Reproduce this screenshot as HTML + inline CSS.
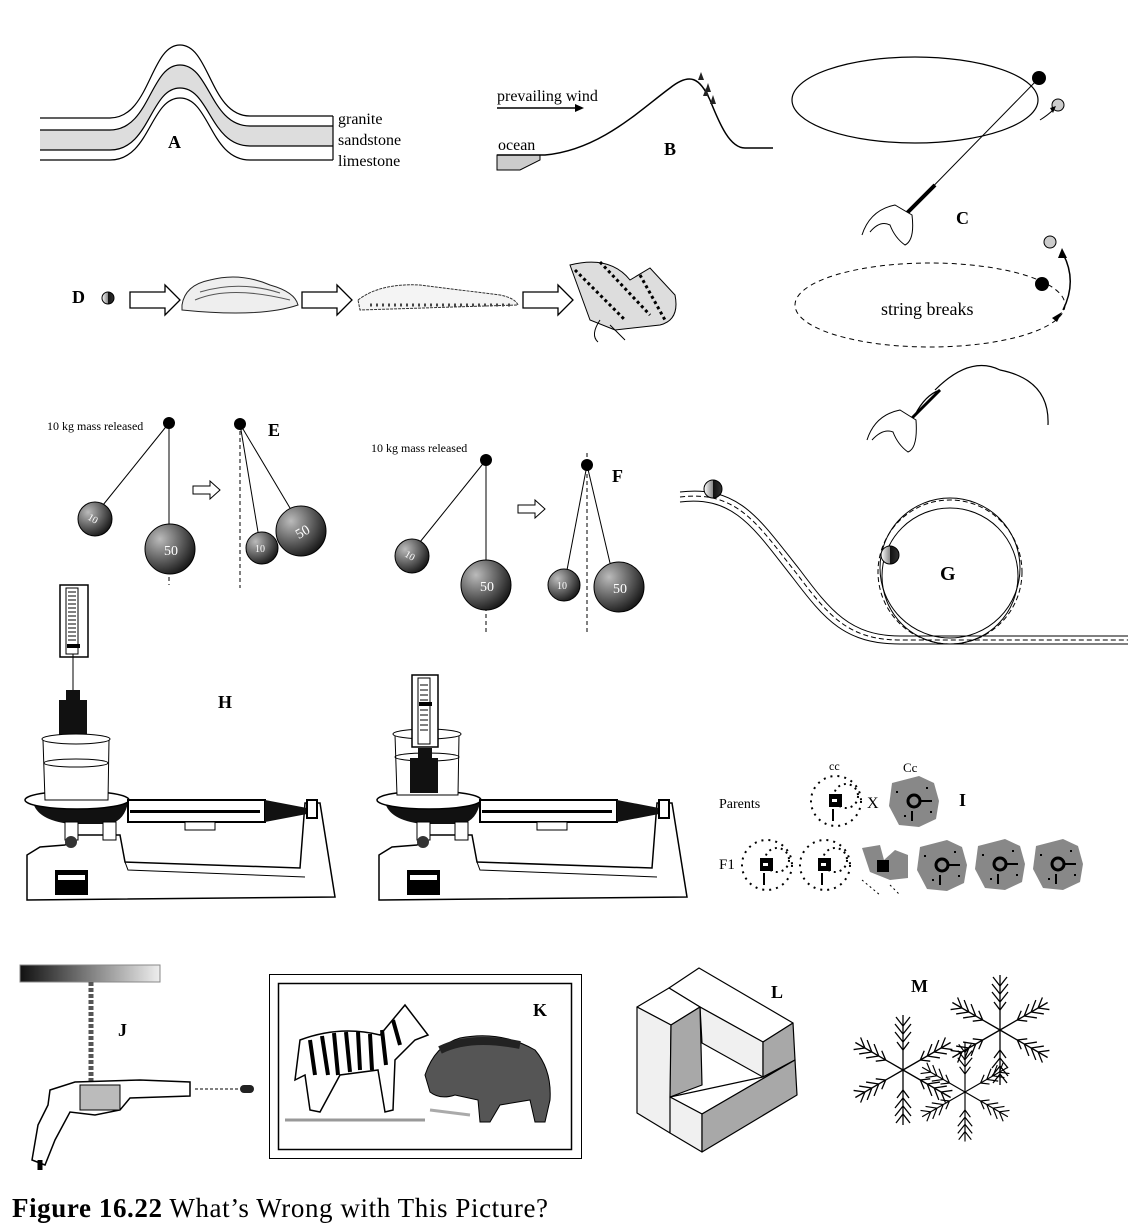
<!DOCTYPE html>
<html><head><meta charset="utf-8"><style>
html,body{margin:0;padding:0;background:#fff;}
svg{display:block;font-family:"Liberation Serif",serif;}
</style></head><body>
<svg width="1128" height="1230" viewBox="0 0 1128 1230" xmlns="http://www.w3.org/2000/svg">
<defs>
<radialGradient id="ball" cx="0.3" cy="0.3" r="0.8"><stop offset="0" stop-color="#bbb"/><stop offset="0.6" stop-color="#555"/><stop offset="1" stop-color="#111"/></radialGradient>
<linearGradient id="bar" x1="0" x2="1"><stop offset="0" stop-color="#111"/><stop offset="1" stop-color="#eee"/></linearGradient>
<linearGradient id="half" x1="0" x2="1"><stop offset="0" stop-color="#fff"/><stop offset="0.5" stop-color="#888"/><stop offset="0.5" stop-color="#111"/><stop offset="1" stop-color="#333"/></linearGradient>
<g id="dotblob"><circle r="25" fill="none" stroke="#000" stroke-width="2" stroke-dasharray="2 5"/><circle cx="10" cy="-5" r="12" fill="none" stroke="#000" stroke-width="2" stroke-dasharray="2 4"/><rect x="-7" y="-7" width="13" height="13" fill="#000"/><rect x="-4" y="-2" width="5" height="3" fill="#fff"/><line x1="-3" y1="8" x2="-3" y2="20" stroke="#000" stroke-width="2"/></g>
<g id="grayblob"><path d="M-22,-18 L5,-25 L20,-18 L25,0 L22,18 L5,26 L-15,24 L-25,5 Z" fill="#888"/><circle r="6" fill="none" stroke="#000" stroke-width="3"/><line x1="6" y1="0" x2="18" y2="0" stroke="#000" stroke-width="2"/><line x1="-2" y1="10" x2="-2" y2="20" stroke="#000" stroke-width="2"/><g fill="#000"><rect x="-18" y="-10" width="2" height="2"/><rect x="12" y="-14" width="2" height="2"/><rect x="-10" y="14" width="2" height="2"/><rect x="16" y="10" width="2" height="2"/></g></g>
<g id="balance">
<path d="M2,320 L2,275 L15,267 L40,265 L50,255 L95,255 L100,282 L275,288 L280,223 L295,223 L310,317 Z" fill="#fff" stroke="#000" stroke-width="1.5"/>
<path d="M100,282 L103,290 L280,297" fill="none" stroke="#000"/>
<rect x="30" y="290" width="33" height="25" fill="#000"/><rect x="33" y="295" width="27" height="5" fill="#fff"/>
<path d="M8,222 Q12,240 45,244 L85,244 Q100,240 103,222 Z" fill="#111"/>
<ellipse cx="52" cy="220" rx="52" ry="9" fill="#fff" stroke="#000" stroke-width="1.5"/>
<rect x="40" y="242" width="13" height="18" fill="#fff" stroke="#000"/><rect x="78" y="242" width="13" height="18" fill="#fff" stroke="#000"/>
<circle cx="46" cy="262" r="6" fill="#333"/>
<rect x="103" y="220" width="137" height="22" fill="#fff" stroke="#000" stroke-width="2"/>
<rect x="105" y="230" width="130" height="3" fill="#000"/>
<rect x="160" y="242" width="30" height="8" fill="#fff" stroke="#000"/>
<path d="M240,220 L282,228 L282,234 L240,242 Z" fill="#111"/>
<rect x="282" y="220" width="10" height="18" fill="#fff" stroke="#000" stroke-width="2"/>
</g>
<g id="flake" stroke="#000" stroke-width="1.3" fill="none">
<g id="arm"><line x1="0" y1="0" x2="0" y2="-55"/><path d="M0,-20 l-6,-8 M0,-20 l6,-8 M0,-28 l-8,-10 M0,-28 l8,-10 M0,-36 l-8,-10 M0,-36 l8,-10 M0,-44 l-7,-9 M0,-44 l7,-9"/></g>
<use href="#arm" transform="rotate(60)"/><use href="#arm" transform="rotate(120)"/><use href="#arm" transform="rotate(180)"/><use href="#arm" transform="rotate(240)"/><use href="#arm" transform="rotate(300)"/>
</g>
</defs>

<!-- A -->
<path d="M40,150 L40,130 L110,130 C150,130 150,65 180,65 C210,65 210,126 250,126 L333,126 L333,146 L250,146 C210,146 210,88 180,88 C150,88 150,150 110,150 Z" fill="#ddd"/>
<g fill="none" stroke="#000" stroke-width="1.2">
<path d="M40,118 L110,118 C150,118 150,45 180,45 C210,45 210,116 250,116 L333,116"/>
<path d="M40,130 L110,130 C150,130 150,65 180,65 C210,65 210,126 250,126 L333,126"/>
<path d="M40,150 L110,150 C150,150 150,88 180,88 C210,88 210,146 250,146 L333,146"/>
<path d="M40,160 L110,160 C150,160 150,98 180,98 C210,98 210,160 250,160 L333,160"/>
<line x1="333" y1="116" x2="333" y2="160"/>
</g>
<text x="168" y="148" font-size="18" font-weight="bold">A</text>
<text x="338" y="124" font-size="16">granite</text>
<text x="338" y="145" font-size="16">sandstone</text>
<text x="338" y="166" font-size="16">limestone</text>

<!-- B -->
<path d="M497,155 L540,155 L540,160 L520,170 L497,170 Z" fill="#ccc" stroke="#000"/>
<path d="M497,155 L545,155 C600,150 640,110 670,88 C690,72 700,78 710,100 C720,125 730,148 745,148 L773,148" fill="none" stroke="#000" stroke-width="1.5"/>
<path d="M698,80 l3,-8 l3,8 z M705,92 l3,-9 l3,9 z M710,104 l3,-9 l3,9 z M703,96 l3,-8 l3,8 z" fill="#222"/>
<text x="497" y="101" font-size="16">prevailing wind</text>
<line x1="497" y1="108" x2="575" y2="108" stroke="#000" stroke-width="1.5"/><path d="M575,104 L584,108 L575,112 Z"/>
<text x="498" y="150" font-size="16">ocean</text>
<text x="664" y="155" font-size="18" font-weight="bold">B</text>

<!-- C -->
<ellipse cx="915" cy="100" rx="123" ry="43" fill="none" stroke="#000" stroke-width="1.2"/>
<circle cx="1039" cy="78" r="7"/>
<circle cx="1058" cy="105" r="6" fill="#ccc" stroke="#000"/>
<path d="M1040,120 Q1048,115 1053,110" fill="none" stroke="#000"/><path d="M1050,108 L1056,106 L1053,113 Z"/>
<line x1="1039" y1="78" x2="912" y2="208" stroke="#000"/>
<path d="M935,185 L905,215" stroke="#000" stroke-width="4"/>
<path d="M862,235 Q870,210 895,205 L912,215 Q915,240 905,245 Q895,238 890,225 Q880,220 870,232" fill="#fff" stroke="#000"/>
<text x="956" y="224" font-size="18" font-weight="bold">C</text>
<ellipse cx="930" cy="305" rx="135" ry="42" fill="none" stroke="#000" stroke-dasharray="5 4"/>
<circle cx="1042" cy="284" r="7"/>
<circle cx="1050" cy="242" r="6" fill="#ccc" stroke="#000"/>
<path d="M1063,310 Q1078,280 1062,252" fill="none" stroke="#000" stroke-width="1.5"/><path d="M1058,258 L1062,248 L1067,258 Z"/>
<path d="M1052,318 L1062,312 L1057,322 Z"/>
<text x="881" y="315" font-size="18">string breaks</text>
<path d="M915,415 Q925,395 940,390 M935,390 Q970,355 1000,370 Q1050,380 1048,425" fill="none" stroke="#000" stroke-width="1.2"/>
<path d="M940,390 L912,418" stroke="#000" stroke-width="3"/>
<path d="M867,440 Q875,415 900,410 L916,420 Q918,448 908,452 Q898,445 893,432 Q883,428 872,440" fill="#fff" stroke="#000"/>

<!-- D -->
<text x="72" y="303" font-size="18" font-weight="bold">D</text>
<circle cx="108" cy="298" r="6" fill="url(#half)" stroke="#000"/>
<g fill="#fff" stroke="#000" stroke-width="1.3">
<path d="M130,292 L165,292 L165,285 L180,300 L165,315 L165,308 L130,308 Z"/>
<path d="M302,292 L337,292 L337,285 L352,300 L337,315 L337,308 L302,308 Z"/>
<path d="M523,292 L558,292 L558,285 L573,300 L558,315 L558,308 L523,308 Z"/>
</g>
<path d="M182,305 Q185,285 210,280 Q240,272 270,285 Q295,292 298,305 Q260,318 182,310 Z" fill="#eee" stroke="#222"/>
<path d="M195,300 Q230,285 290,300 M200,292 Q240,280 280,293" stroke="#555" fill="none"/>
<path d="M358,300 Q380,283 420,285 L500,295 Q515,298 518,305 L360,310 Z" fill="#f4f4f4" stroke="#333" stroke-dasharray="3 1"/>
<path d="M370,305 L510,305" stroke="#444" stroke-dasharray="2 4" stroke-width="3"/>
<path d="M590,320 L570,265 Q610,255 630,280 L650,268 L675,295 Q680,320 660,325 L615,330 Z" fill="#ddd" stroke="#000"/>
<path d="M575,270 L625,320 M600,262 L650,315 M640,275 L665,320" stroke="#000" stroke-width="3" stroke-dasharray="3 3"/>
<path d="M600,320 Q590,335 598,342 M610,325 Q620,335 625,340" fill="none" stroke="#000"/>

<!-- E -->
<text x="47" y="430" font-size="12">10 kg mass released</text>
<line x1="169" y1="423" x2="169" y2="585" stroke="#000" stroke-dasharray="4 3"/>
<circle cx="169" cy="423" r="6"/>
<line x1="169" y1="423" x2="103" y2="505" stroke="#000"/>
<line x1="169" y1="423" x2="169" y2="525" stroke="#000"/>
<circle cx="95" cy="519" r="17" fill="url(#ball)" stroke="#000"/>
<text x="88" y="523" font-size="10" fill="#fff" transform="rotate(30 95 519)">10</text>
<circle cx="170" cy="549" r="25" fill="url(#ball)" stroke="#000"/>
<text x="164" y="555" font-size="14" fill="#fff">50</text>
<path d="M193,486 L210,486 L210,481 L220,490 L210,499 L210,494 L193,494 Z" fill="#fff" stroke="#000"/>
<line x1="240" y1="424" x2="240" y2="588" stroke="#000" stroke-dasharray="4 3"/>
<circle cx="240" cy="424" r="6"/>
<line x1="240" y1="424" x2="258" y2="532" stroke="#000"/>
<line x1="240" y1="424" x2="290" y2="508" stroke="#000"/>
<circle cx="262" cy="548" r="16" fill="url(#ball)" stroke="#000"/>
<text x="255" y="552" font-size="10" fill="#fff">10</text>
<circle cx="301" cy="531" r="25" fill="url(#ball)" stroke="#000"/>
<text x="295" y="537" font-size="14" fill="#fff" transform="rotate(-30 301 531)">50</text>
<text x="268" y="436" font-size="18" font-weight="bold">E</text>

<!-- F -->
<text x="371" y="452" font-size="12">10 kg mass released</text>
<line x1="486" y1="460" x2="486" y2="632" stroke="#000" stroke-dasharray="4 3"/>
<circle cx="486" cy="460" r="6"/>
<line x1="486" y1="460" x2="420" y2="542" stroke="#000"/>
<line x1="486" y1="460" x2="486" y2="562" stroke="#000"/>
<circle cx="412" cy="556" r="17" fill="url(#ball)" stroke="#000"/>
<text x="405" y="560" font-size="10" fill="#fff" transform="rotate(30 412 556)">10</text>
<circle cx="486" cy="585" r="25" fill="url(#ball)" stroke="#000"/>
<text x="480" y="591" font-size="14" fill="#fff">50</text>
<path d="M518,505 L535,505 L535,500 L545,509 L535,518 L535,513 L518,513 Z" fill="#fff" stroke="#000"/>
<line x1="587" y1="453" x2="587" y2="635" stroke="#000" stroke-dasharray="4 3"/>
<circle cx="587" cy="465" r="6"/>
<line x1="587" y1="465" x2="567" y2="570" stroke="#000"/>
<line x1="587" y1="465" x2="610" y2="563" stroke="#000"/>
<circle cx="564" cy="585" r="16" fill="url(#ball)" stroke="#000"/>
<text x="557" y="589" font-size="10" fill="#fff">10</text>
<circle cx="619" cy="587" r="25" fill="url(#ball)" stroke="#000"/>
<text x="613" y="593" font-size="14" fill="#fff">50</text>
<text x="612" y="482" font-size="18" font-weight="bold">F</text>

<!-- G -->
<g fill="none" stroke="#000" stroke-width="1">
<path d="M680,492 C740,485 760,520 800,570 C830,610 850,636 900,636 L1128,636"/>
<path d="M680,502 C735,495 755,530 793,578 C825,620 845,644 900,644 L1128,644"/>
<path d="M680,497 C738,490 758,525 797,574 C828,615 848,640 900,640 L1128,640" stroke-dasharray="5 3"/>
<circle cx="950" cy="568" r="70"/><circle cx="950" cy="572" r="72" stroke-dasharray="5 3"/><circle cx="950" cy="576" r="68"/>
</g>
<circle cx="713" cy="489" r="9" fill="url(#half)" stroke="#000"/>
<circle cx="890" cy="555" r="9" fill="url(#half)" stroke="#000"/>
<text x="940" y="580" font-size="20" font-weight="bold">G</text>

<!-- H -->
<use href="#balance" transform="translate(25,580)"/>
<rect x="60" y="585" width="28" height="72" fill="#fff" stroke="#000" stroke-width="1.5"/><rect x="66" y="588" width="12" height="66" fill="#fff" stroke="#000"/>
<path d="M68,592 h8 M68,596 h8 M68,600 h8 M68,604 h8 M68,608 h8 M68,612 h8 M68,616 h8 M68,620 h8 M68,624 h8 M68,628 h8 M68,632 h8 M68,636 h8 M68,640 h8" stroke="#000"/>
<rect x="67" y="644" width="13" height="4"/>
<line x1="73" y1="654" x2="73" y2="692" stroke="#000"/>
<rect x="66" y="690" width="14" height="10" fill="#111"/><rect x="59" y="700" width="28" height="35" fill="#111"/>
<path d="M43,740 L45,800 L108,800 L109,740" fill="#fff" stroke="#000"/><ellipse cx="76" cy="739" rx="34" ry="5" fill="#fff" stroke="#000"/>
<ellipse cx="76" cy="763" rx="32" ry="4" fill="none" stroke="#000"/>
<text x="218" y="708" font-size="18" font-weight="bold">H</text>
<use href="#balance" transform="translate(377,580)"/>
<path d="M395,735 L397,795 L458,795 L459,735" fill="#fff" stroke="#000"/><ellipse cx="427" cy="734" rx="34" ry="5" fill="#fff" stroke="#000"/>
<ellipse cx="427" cy="757" rx="32" ry="4" fill="none" stroke="#000"/>
<rect x="412" y="675" width="26" height="72" fill="#fff" stroke="#000" stroke-width="1.5"/><rect x="418" y="678" width="12" height="66" fill="#fff" stroke="#000"/>
<path d="M420,685 h8 M420,690 h8 M420,695 h8 M420,700 h8 M420,705 h8 M420,710 h8 M420,715 h8 M420,720 h8 M420,725 h8 M420,730 h8" stroke="#000"/>
<rect x="419" y="702" width="13" height="4"/>
<rect x="418" y="748" width="14" height="10" fill="#111"/><rect x="410" y="758" width="28" height="35" fill="#111"/>

<!-- I -->
<text x="719" y="808" font-size="14">Parents</text>
<text x="829" y="770" font-size="12">cc</text>
<text x="903" y="772" font-size="13">Cc</text>
<text x="867" y="808" font-size="16">X</text>
<text x="959" y="806" font-size="18" font-weight="bold">I</text>
<use href="#dotblob" transform="translate(836,801)"/>
<use href="#grayblob" transform="translate(914,801)"/>
<text x="719" y="869" font-size="15">F1</text>
<use href="#dotblob" transform="translate(767,865)"/>
<use href="#dotblob" transform="translate(825,865)"/>
<path d="M862,848 L880,845 L884,860 L895,850 L908,855 L908,878 L890,880 L870,872 Z" fill="#888"/><rect x="877" y="860" width="12" height="12" fill="#000"/>
<path d="M862,880 L880,895 M890,885 L900,895" stroke="#000" stroke-dasharray="2 3"/>
<use href="#grayblob" transform="translate(942,865)"/>
<use href="#grayblob" transform="translate(1000,864)"/>
<use href="#grayblob" transform="translate(1058,864)"/>

<!-- J -->
<rect x="20" y="965" width="140" height="17" fill="url(#bar)" stroke="#888"/>
<line x1="91" y1="982" x2="91" y2="1085" stroke="#555" stroke-width="5" stroke-dasharray="4 2"/>
<text x="118" y="1036" font-size="18" font-weight="bold">J</text>
<path d="M50,1090 L75,1082 L140,1080 L190,1082 L190,1096 L130,1098 L120,1110 L95,1115 L70,1112 L55,1140 L45,1165 L32,1160 L38,1125 L48,1105 Z" fill="#fff" stroke="#000" stroke-width="1.5"/>
<rect x="80" y="1085" width="40" height="25" fill="#bbb" stroke="#000"/>
<path d="M40,1160 L40,1170" stroke="#000" stroke-width="5"/>
<line x1="195" y1="1089" x2="240" y2="1089" stroke="#000" stroke-dasharray="3 2"/>
<rect x="240" y="1085" width="14" height="8" rx="4" fill="#222"/>

<!-- K -->
<rect x="269.5" y="974.5" width="312" height="184" fill="none" stroke="#000"/>
<rect x="278.5" y="983.5" width="293" height="166" fill="none" stroke="#000" stroke-width="1.5"/>
<text x="533" y="1016" font-size="18" font-weight="bold">K</text>
<path d="M300,1040 Q340,1025 380,1035 L405,1005 L428,1035 L415,1040 L395,1060 L393,1110 L385,1112 L378,1070 L340,1075 L320,1112 L310,1110 L305,1075 L295,1080 Z" fill="#fff" stroke="#000" stroke-width="1.5"/>
<path d="M310,1040 L315,1075 M322,1036 L328,1075 M334,1033 L338,1075 M346,1032 L350,1072 M358,1032 L360,1070 M370,1034 L372,1070 M382,1030 L386,1065 M393,1020 L400,1045" stroke="#000" stroke-width="4"/>
<path d="M285,1120 L425,1120" stroke="#999" stroke-width="3"/>
<path d="M425,1075 Q435,1045 460,1038 Q500,1030 535,1050 Q552,1070 550,1100 L545,1122 L535,1122 L530,1100 L500,1105 L490,1122 L480,1122 L478,1100 L455,1095 Q440,1100 430,1092 Z" fill="#555" stroke="#000"/>
<path d="M440,1050 Q470,1035 520,1045" stroke="#222" stroke-width="8" fill="none"/>
<path d="M430,1110 L470,1115" stroke="#aaa" stroke-width="3"/>

<!-- L -->
<g stroke="#000" stroke-width="1.2" stroke-linejoin="round">
<polygon points="669,988 699,968 793,1023 763,1042 700,1007" fill="#fff"/>
<polygon points="700,1007 763,1042 763,1077 702,1043" fill="#f0f0f0"/>
<polygon points="763,1042 793,1023 795,1060 763,1077" fill="#a8a8a8"/>
<polygon points="637,1007 669,988 700,1007 671,1025" fill="#fff"/>
<polygon points="637,1007 671,1025 670,1133 637,1113" fill="#f0f0f0"/>
<polygon points="671,1025 700,1007 702,1085 670,1097" fill="#a8a8a8"/>
<polygon points="670,1097 763,1077 795,1060 702,1114" fill="#fff"/>
<polygon points="670,1097 702,1114 702,1152 670,1133" fill="#f0f0f0"/>
<polygon points="702,1114 795,1060 797,1095 702,1152" fill="#a8a8a8"/>
</g>
<text x="771" y="998" font-size="18" font-weight="bold">L</text>

<!-- M -->
<text x="911" y="992" font-size="18" font-weight="bold">M</text>
<use href="#flake" transform="translate(903,1070)"/>
<use href="#flake" transform="translate(1000,1030)"/>
<use href="#flake" transform="translate(965,1092) scale(0.9)"/>

<!-- caption -->
<text x="12" y="1217" font-size="27" textLength="536" lengthAdjust="spacing"><tspan font-weight="bold">Figure 16.22</tspan>  What’s Wrong with This Picture?</text>
</svg>
</body></html>
